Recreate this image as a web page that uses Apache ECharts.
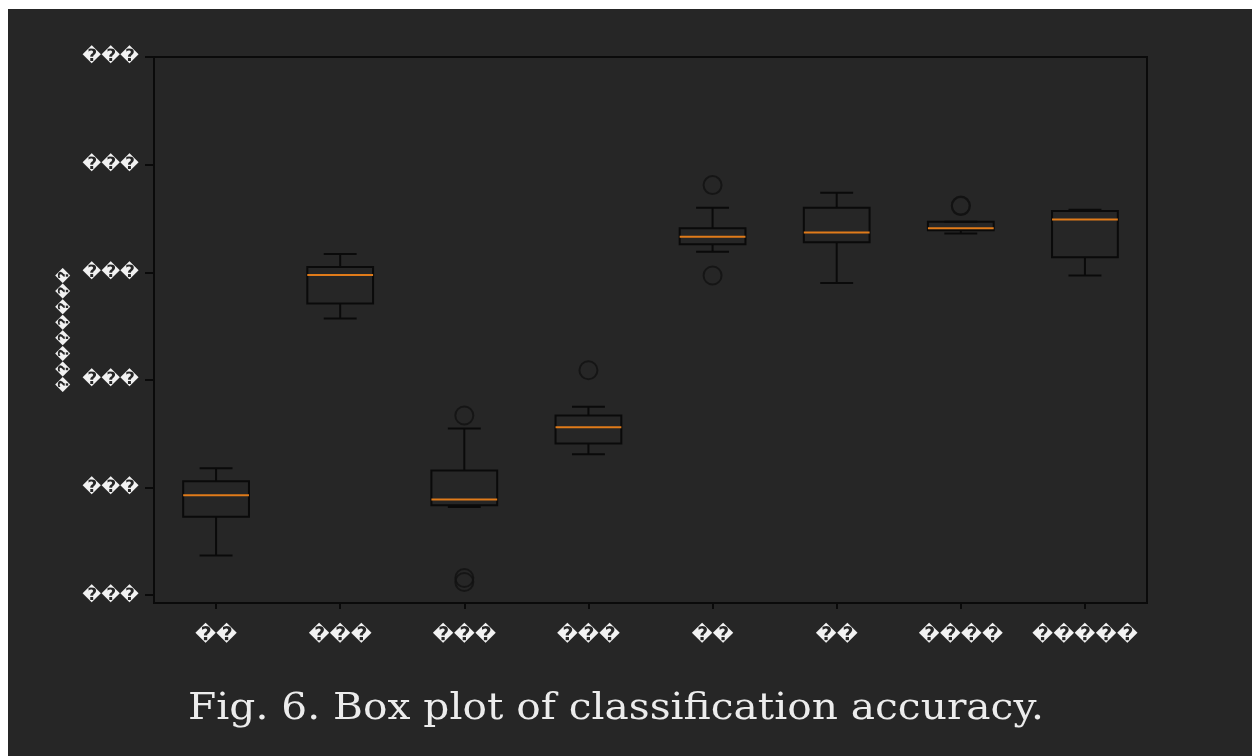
<!DOCTYPE html>
<html>
<head>
<meta charset="utf-8">
<script src="https://cdn.jsdelivr.net/npm/echarts@6/dist/echarts.min.js"></script>
<style>
html,body{margin:0;padding:0;background:#ffffff;width:1259px;height:756px;overflow:hidden;}
#chart{position:absolute;left:8px;top:9px;width:1244px;height:747px;background:#262626;}
</style>
</head>
<body>
<div id="chart"></div>
<script>
// ---- data ----
var categories = ['\uFFFD\uFFFD', '\uFFFD\uFFFD\uFFFD', '\uFFFD\uFFFD\uFFFD', '\uFFFD\uFFFD\uFFFD', '\uFFFD\uFFFD', '\uFFFD\uFFFD', '\uFFFD\uFFFD\uFFFD\uFFFD', '\uFFFD\uFFFD\uFFFD\uFFFD\uFFFD'];
var whiskerLow  = [0.537, 0.757, 0.582, 0.631, 0.819, 0.790, 0.836, 0.797];
var q1          = [0.573, 0.771, 0.5835, 0.641, 0.826, 0.828, 0.839, 0.814];
var median      = [0.593, 0.7975, 0.589, 0.656, 0.833, 0.837, 0.841, 0.849];
var q3          = [0.606, 0.805, 0.616, 0.667, 0.841, 0.860, 0.847, 0.857];
var whiskerHigh = [0.618, 0.817, 0.655, 0.675, 0.860, 0.874, 0.847, 0.858];
var outlierCat  = [2, 2, 2, 3, 4, 4, 6, 6];
var outlierVal  = [0.667, 0.516, 0.5123, 0.709, 0.881, 0.797, 0.862, 0.8615];
var yTickValues = [0.5, 0.6, 0.7, 0.8, 0.9, 1.0];
var yTickLabels = ['\uFFFD\uFFFD\uFFFD', '\uFFFD\uFFFD\uFFFD', '\uFFFD\uFFFD\uFFFD', '\uFFFD\uFFFD\uFFFD', '\uFFFD\uFFFD\uFFFD', '\uFFFD\uFFFD\uFFFD'];
var yAxisName = '\uFFFD\uFFFD\uFFFD\uFFFD\uFFFD\uFFFD\uFFFD\uFFFD';
var figCaption = 'Fig. 6. Box plot of classification accuracy.';

var boxData = categories.map(function (c, i) {
  return [i, whiskerLow[i], q1[i], median[i], q3[i], whiskerHigh[i]];
});
var outlierData = outlierCat.map(function (c, i) { return [c, outlierVal[i]]; });

var LINE = '#0a0a0a';
var chart = echarts.init(document.getElementById('chart'));
chart.setOption({
  backgroundColor: '#262626',
  animation: false,
  grid: { left: 146, right: 105, top: 48, bottom: 153, show: true, borderColor: LINE, borderWidth: 2, backgroundColor: 'transparent' },
  xAxis: {
    type: 'category',
    data: categories,
    boundaryGap: true,
    axisLine: { show: true, lineStyle: { color: LINE, width: 2 } },
    axisTick: { show: true, alignWithLabel: true, interval: 0, length: 6, lineStyle: { color: LINE, width: 2 } },
    axisLabel: { interval: 0, color: '#f2f2f2', fontSize: 19, fontWeight: 'bold', fontFamily: 'DejaVu Sans', margin: 23 },
    splitLine: { show: false }
  },
  yAxis: {
    type: 'value',
    min: 0.4928,
    max: 1.0,
    name: yAxisName,
    nameLocation: 'middle',
    nameRotate: 90,
    nameGap: 82,
    nameTextStyle: { color: '#f2f2f2', fontSize: 14, fontWeight: 'bold', fontFamily: 'DejaVu Sans' },
    axisLine: { show: true, lineStyle: { color: LINE, width: 2 } },
    axisTick: { show: true, length: 9, lineStyle: { color: LINE, width: 2 }, customValues: yTickValues },
    axisLabel: {
      color: '#f2f2f2', fontSize: 17, fontWeight: 'bold', fontFamily: 'DejaVu Sans', margin: 15,
      customValues: yTickValues,
      formatter: function (v) {
        var k = yTickValues.findIndex(function (t) { return Math.abs(t - v) < 1e-6; });
        return k >= 0 ? yTickLabels[k] : '';
      }
    },
    splitLine: { show: false }
  },
  series: [
    {
      type: 'custom',
      data: boxData,
      encode: { x: 0, y: [1, 2, 3, 4, 5] },
      renderItem: function (params, api) {
        var idx = api.value(0);
        var bw = api.size([1, 0])[0] * 0.265;
        var cw = bw / 2;
        var pLow = api.coord([idx, api.value(1)]);
        var pQ1 = api.coord([idx, api.value(2)]);
        var pMed = api.coord([idx, api.value(3)]);
        var pQ3 = api.coord([idx, api.value(4)]);
        var pHigh = api.coord([idx, api.value(5)]);
        var x = pMed[0];
        var ls = { stroke: LINE, lineWidth: 2, fill: null };
        return {
          type: 'group',
          children: [
            { type: 'line', shape: { x1: x, y1: pQ1[1], x2: x, y2: pLow[1] }, style: ls },
            { type: 'line', shape: { x1: x, y1: pQ3[1], x2: x, y2: pHigh[1] }, style: ls },
            { type: 'line', shape: { x1: x - cw, y1: pLow[1], x2: x + cw, y2: pLow[1] }, style: ls },
            { type: 'line', shape: { x1: x - cw, y1: pHigh[1], x2: x + cw, y2: pHigh[1] }, style: ls },
            { type: 'rect', shape: { x: x - bw, y: pQ3[1], width: bw * 2, height: pQ1[1] - pQ3[1] }, style: { stroke: LINE, lineWidth: 2, fill: 'rgba(0,0,0,0)' } },
            { type: 'line', shape: { x1: x - bw, y1: pMed[1], x2: x + bw, y2: pMed[1] }, style: { stroke: '#e07b1a', lineWidth: 2 } }
          ]
        };
      },
      z: 3
    },
    {
      type: 'scatter',
      data: outlierData,
      symbol: 'circle',
      symbolSize: 18,
      itemStyle: { color: 'rgba(0,0,0,0)', borderColor: '#111111', borderWidth: 2 },
      z: 4
    }
  ],
  graphic: [
    {
      type: 'text',
      x: 608,
      y: 700,
      originX: 0,
      originY: 0,
      scaleX: 1.1,
      style: { text: figCaption, fill: '#ececec', font: '37px "DejaVu Serif"', textAlign: 'center', textVerticalAlign: 'middle' }
    }
  ]
});
</script>
</body>
</html>
